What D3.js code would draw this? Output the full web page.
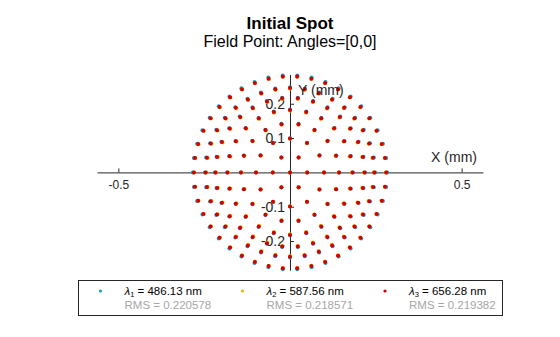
<!DOCTYPE html>
<html>
<head>
<meta charset="utf-8">
<script src="https://cdn.jsdelivr.net/npm/d3@7/dist/d3.min.js"></script>
<style>
  html, body { margin: 0; padding: 0; background: #fff; }
  svg { display: block; font-family: "Liberation Sans", Arial, sans-serif; }
</style>
</head>
<body>
<svg id="chart" width="560" height="337"></svg>
<script>
// Hexapolar pupil sampling: number of rays on each ring (ring 0 is the chief ray)
const ringCounts = [1, 6, 12, 18, 24, 30, 36, 42];

// Image-plane radius of each ring (mm), one list per wavelength
const radiusBlue   = [0, 0.0504, 0.0995, 0.1436, 0.1833, 0.2188, 0.2480, 0.2832];
const radiusYellow = [0, 0.0499, 0.0983, 0.1412, 0.1798, 0.2148, 0.2436, 0.2790];
const radiusRed    = [0, 0.0501, 0.0990, 0.1427, 0.1821, 0.2170, 0.2456, 0.2800];

const wavelengths = ["486.13", "587.56", "656.28"];
const rmsValues   = ["0.220578", "0.218571", "0.219382"];
const seriesColors = ["#1a98d5", "#f2b400", "#d10000"];

const xTicks = [-0.5, 0.5];
const yTicks = [-0.2, -0.1, 0.1, 0.2];

const svg = d3.select("#chart");
const W = 560, H = 337;
svg.append("rect").attr("width", W).attr("height", H).attr("fill", "#fff");

// Equal-aspect axes crossing at the origin
const cx = 290, cy = 172.4, pxPerMm = 343.3;
const xDom = [-0.562, 0.562], yDom = [-0.285, 0.285];
const x = d3.scaleLinear().domain(xDom).range([cx + xDom[0] * pxPerMm, cx + xDom[1] * pxPerMm]);
const y = d3.scaleLinear().domain(yDom).range([cy - yDom[0] * pxPerMm, cy - yDom[1] * pxPerMm]);

const ink = "#262626";

// Build ray intercepts from the ring table
function spotPoints(radii) {
  const pts = [];
  ringCounts.forEach((n, k) => {
    for (let j = 0; j < n; j++) {
      const a = 2 * Math.PI * j / n;
      pts.push({ x: radii[k] * Math.cos(a), y: radii[k] * Math.sin(a) });
    }
  });
  return pts;
}
const series = [radiusBlue, radiusYellow, radiusRed].map(spotPoints);

// Axes
const fmt = d => d3.format(".1f")(d).replace("−", "-");
const xAxis = d3.axisBottom(x).tickValues(xTicks).tickSizeInner(-4).tickSizeOuter(0)
  .tickPadding(8).tickFormat(fmt);
const gx = svg.append("g").attr("transform", `translate(0,${y(0)})`).call(xAxis);
const yAxis = d3.axisLeft(y).tickValues(yTicks).tickSizeInner(-4).tickSizeOuter(0)
  .tickPadding(5).tickFormat(fmt);
const gy = svg.append("g").attr("transform", `translate(${x(0)},0)`).call(yAxis);

[gx, gy].forEach(g => {
  g.select(".domain").attr("stroke", ink).attr("stroke-width", 1);
  g.selectAll(".tick line").attr("stroke", ink);
  g.selectAll(".tick text").attr("fill", ink).attr("font-family", "Liberation Sans, Arial, sans-serif");
});
gx.selectAll(".tick text").attr("font-size", 12);
gy.selectAll(".tick text").attr("font-size", 14);

// Spot points, shortest wavelength first
const plot = svg.append("g");
series.forEach((pts, i) => {
  plot.append("g").selectAll("circle").data(pts).join("circle")
    .attr("cx", d => x(d.x)).attr("cy", d => y(d.y))
    .attr("r", 2).attr("fill", seriesColors[i]);
});

// Axis labels
svg.append("text").attr("x", 477).attr("y", 162).attr("text-anchor", "end")
  .attr("font-size", 14).attr("fill", ink).text("X (mm)");
svg.append("text").attr("x", 298).attr("y", 95).attr("text-anchor", "start")
  .attr("font-size", 14).attr("fill", ink).text("Y (mm)");

// Titles
svg.append("text").attr("x", 290).attr("y", 29).attr("text-anchor", "middle")
  .attr("font-size", 17).attr("font-weight", "bold").attr("fill", "#000").text("Initial Spot");
svg.append("text").attr("x", 290).attr("y", 47).attr("text-anchor", "middle")
  .attr("font-size", 16).attr("fill", "#000").text("Field Point: Angles=[0,0]");

// Legend
const legend = svg.append("g");
legend.append("rect").attr("x", 78.5).attr("y", 280.5).attr("width", 424).attr("height", 35)
  .attr("fill", "#fff").attr("stroke", ink).attr("stroke-width", 1);
const colX = [100.5, 242.5, 385];
wavelengths.forEach((w, i) => {
  const g = legend.append("g").attr("transform", `translate(${colX[i]},0)`);
  g.append("circle").attr("cx", 0).attr("cy", 291).attr("r", 1.6).attr("fill", seriesColors[i]);
  const t = g.append("text").attr("x", 24).attr("y", 294.5).attr("font-size", 11.5).attr("fill", "#000");
  t.append("tspan").attr("font-style", "italic").text("λ");
  t.append("tspan").attr("font-size", 7.5).attr("dy", 2.5).text(String(i + 1));
  t.append("tspan").attr("dy", -2.5).text(` = ${w} nm`);
  g.append("text").attr("x", 24).attr("y", 309).attr("font-size", 11.5).attr("fill", "#a6a6a6")
    .text(`RMS = ${rmsValues[i]}`);
});
</script>
</body>
</html>
